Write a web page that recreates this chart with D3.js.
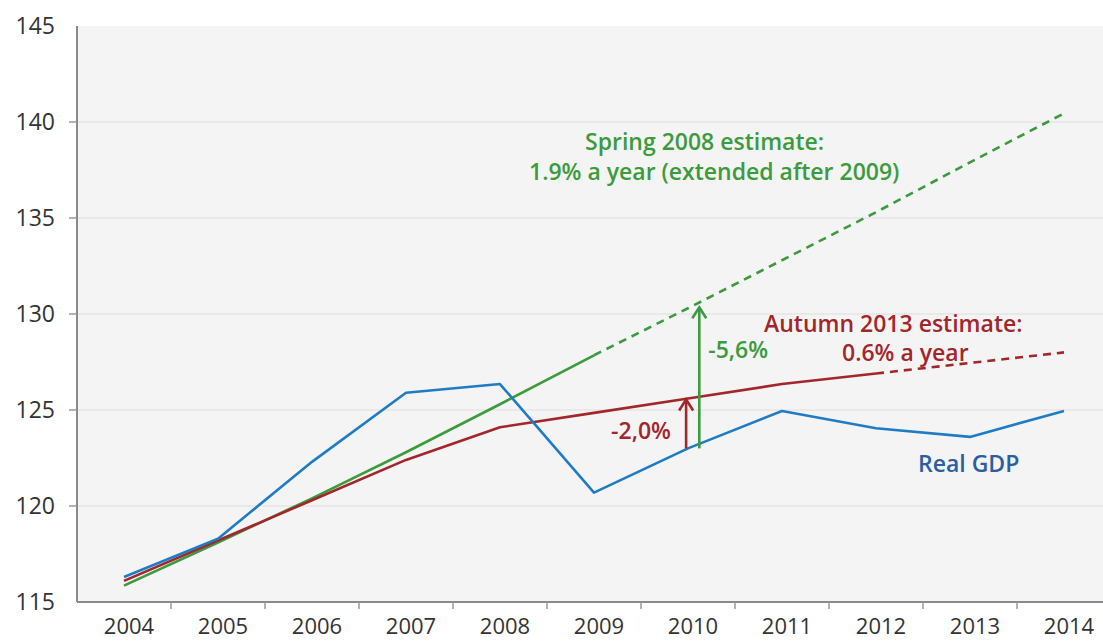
<!DOCTYPE html>
<html><head><meta charset="utf-8">
<script src="https://cdn.jsdelivr.net/npm/d3@7"></script>
<style>body{margin:0;background:#fff}svg{display:block}text{font-family:"Open Sans",sans-serif}</style>
</head><body>
<svg id="c" width="1103" height="642"></svg>
<script>
const years = [2004,2005,2006,2007,2008,2009,2010,2011,2012,2013,2014];
const realGDP = [116.3,118.3,122.3,125.9,126.35,120.7,123.0,124.95,124.05,123.6,124.95];
const autumn2013 = [116.1,118.2,120.3,122.4,124.1,124.85,125.6,126.35,126.9,127.45,128.0];
const spring2008 = [115.85,118.1,120.4,122.8,125.3,127.85,130.3,132.8,135.3,137.9,140.45];
const yTicks = [115,120,125,130,135,140,145];
const redSolidEnd = 2012, greenSolidEnd = 2009;
const redArrow = {year:2009.98, from:123.0, to:125.6, label:"-2,0%"};
const greenArrow = {year:2010.12, from:123.0, to:130.4, label:"-5,6%"};

const svg = d3.select("#c");
const x = d3.scaleLinear().domain([2004,2014]).range([124,1064]);
const y = d3.scaleLinear().domain([115,145]).range([602,26]);
const left = x(2003.5), right = 1103;

svg.append("rect").attr("x",left).attr("y",y(145)).attr("width",right-left).attr("height",y(115)-y(145)).attr("fill","#f4f4f4");
svg.append("g").selectAll("line").data(yTicks.filter(t=>t>115&&t<145)).join("line")
  .attr("x1",left).attr("x2",right).attr("y1",d=>y(d)).attr("y2",d=>y(d)).attr("stroke","#e6e6e6").attr("stroke-width",1.5);

// y axis
svg.append("line").attr("x1",left).attr("x2",left).attr("y1",y(145)).attr("y2",y(115)).attr("stroke","#8a8a8a").attr("stroke-width",2);
svg.append("g").selectAll("line").data(yTicks.filter(t=>t>115&&t<145)).join("line")
  .attr("x1",left-8).attr("x2",left).attr("y1",d=>y(d)).attr("y2",d=>y(d)).attr("stroke","#9a9a9a").attr("stroke-width",1.5);
svg.append("g").selectAll("text").data(yTicks).join("text")
  .attr("x",55).attr("y",d=>y(d)).attr("dy","0.36em").attr("text-anchor","end")
  .attr("font-size",23).attr("fill","#333").text(d=>d);

// x axis
svg.append("line").attr("x1",left).attr("x2",right).attr("y1",y(115)).attr("y2",y(115)).attr("stroke","#8a8a8a").attr("stroke-width",2);
svg.append("g").selectAll("line").data(years.slice(0,-1)).join("line")
  .attr("x1",d=>x(d+0.5)).attr("x2",d=>x(d+0.5)).attr("y1",y(115)).attr("y2",y(115)+7).attr("stroke","#9a9a9a").attr("stroke-width",1.5);
svg.append("g").selectAll("text").data(years).join("text")
  .attr("x",d=>x(d)+5).attr("y",634).attr("text-anchor","middle")
  .attr("font-size",22).attr("fill","#333").text(d=>d);

const line = d3.line().x(d=>x(d[0])).y(d=>y(d[1]));
const pts = arr => years.map((yr,i)=>[yr,arr[i]]);
const blue="#1f7cc4", red="#a3262b", green="#3c9b3c";

function draw(data, color, dash){
  svg.append("path").datum(data).attr("d",line).attr("fill","none").attr("stroke",color)
    .attr("stroke-width",2.6).attr("stroke-dasharray",dash||null).attr("stroke-linejoin","round");
}
draw(pts(spring2008).filter(d=>d[0]>=greenSolidEnd), green, "8,6");
draw(pts(spring2008).filter(d=>d[0]<=greenSolidEnd), green);
draw(pts(autumn2013).filter(d=>d[0]>=redSolidEnd), red, "8,6");
draw(pts(autumn2013).filter(d=>d[0]<=redSolidEnd), red);
draw(pts(realGDP), blue);

function arrow(a, color){
  const ax=x(a.year), y0=y(a.from), y1=y(a.to);
  svg.append("line").attr("x1",ax).attr("x2",ax).attr("y1",y0).attr("y2",y1+1).attr("stroke",color).attr("stroke-width",2.6);
  svg.append("path").attr("d",`M${ax-7},${y1+12}L${ax},${y1+1}L${ax+7},${y1+12}`).attr("fill","none").attr("stroke",color).attr("stroke-width",2.6).attr("stroke-linejoin","miter");
}
arrow(redArrow, red);
arrow(greenArrow, green);

const lbl = (tx,ty,t,c)=>svg.append("text").attr("x",tx).attr("y",ty).attr("font-size",23).attr("font-weight",600).attr("fill",c).text(t);
lbl(x(redArrow.year)-75, 439, redArrow.label, red);
lbl(x(greenArrow.year)+9, 358, greenArrow.label, green);
lbl(585,150,"Spring 2008 estimate:",green);
lbl(529,180,"1.9% a year (extended after 2009)",green);
lbl(764,332,"Autumn 2013 estimate:",red);
lbl(842,361,"0.6% a year",red);
lbl(918,472,"Real GDP","#2c5f9f");
</script>
</body></html>
